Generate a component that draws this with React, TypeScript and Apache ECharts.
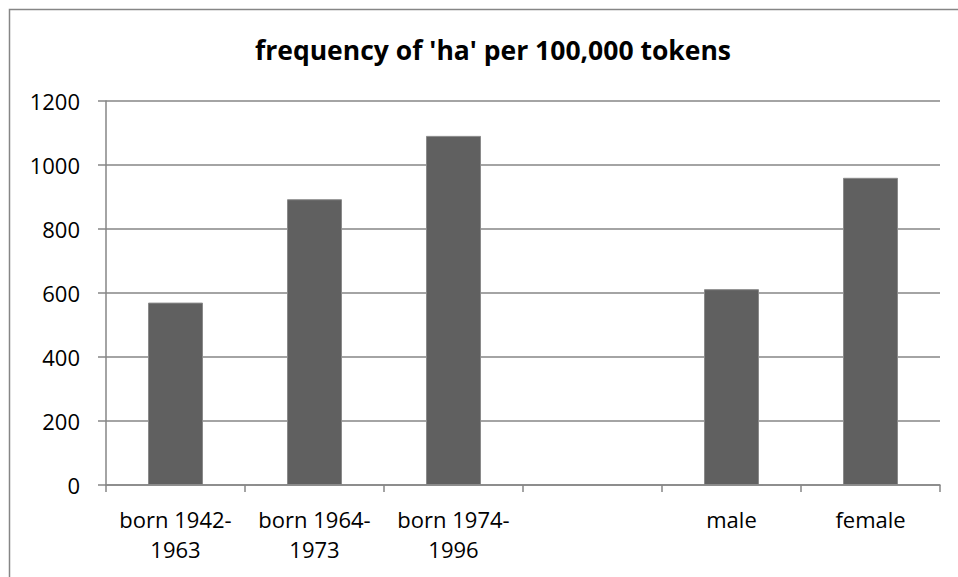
import React, { useEffect, useRef } from "react";
import * as echarts from "echarts";

const TITLE = "frequency of 'ha' per 100,000 tokens";
const categories = ["born 1942-\n1963", "born 1964-\n1973", "born 1974-\n1996", "", "male", "female"];
const values: (number | null)[] = [570, 893, 1091, null, 612, 960];
const yMin = 0;
const yMax = 1200;
const yStep = 200;

const FONT = "'Open Sans', Lato, sans-serif";
const GREY = "#868686";

export default function App() {
  const ref = useRef<HTMLDivElement>(null);
  useEffect(() => {
    if (!ref.current) return;
    const chart = echarts.init(ref.current, undefined, { renderer: "svg" });
    chart.setOption({
      animation: false,
      backgroundColor: "#ffffff",
      title: {
        text: TITLE,
        left: 488,
        textAlign: "center",
        top: 31,
        textStyle: { fontFamily: FONT, fontWeight: "bold", fontSize: 26.5, color: "#000" },
      },
      graphic: [
        {
          type: "rect",
          shape: { x: 9.5, y: 9.5, width: 1000, height: 1000 },
          style: { fill: "none", stroke: GREY, lineWidth: 1.5 },
          silent: true,
        },
      ],
      grid: { left: 106, top: 101, right: 18, bottom: 92, containLabel: false },
      xAxis: {
        type: "category",
        data: categories,
        boundaryGap: true,
        axisLine: { show: true, lineStyle: { color: GREY, width: 1.5 } },
        axisTick: { show: true, interval: 0, length: 7, lineStyle: { color: GREY, width: 1.5 } },
        axisLabel: {
          interval: 0,
          margin: 19,
          fontFamily: FONT,
          fontSize: 22,
          lineHeight: 30,
          color: "#000",
        },
        splitLine: { show: false },
      },
      yAxis: {
        type: "value",
        min: yMin,
        max: yMax,
        interval: yStep,
        axisLine: { show: true, lineStyle: { color: GREY, width: 1.5 } },
        axisTick: { show: true, length: 8, lineStyle: { color: GREY, width: 1.5 } },
        axisLabel: {
          margin: 26,
          fontFamily: FONT,
          fontSize: 22,
          color: "#000",
          formatter: (v: number) => String(v),
        },
        splitLine: { show: true, lineStyle: { color: GREY, width: 1.5 } },
      },
      series: [
        {
          type: "bar",
          data: values,
          barWidth: 55,
          itemStyle: { color: "#606060", borderColor: "#8a8a8a", borderWidth: 1 },
        },
      ],
    });
    return () => chart.dispose();
  }, []);
  return (
    <div
      ref={ref}
      style={{ position: "fixed", left: 0, top: 0, width: 958, height: 577 }}
    />
  );
}
